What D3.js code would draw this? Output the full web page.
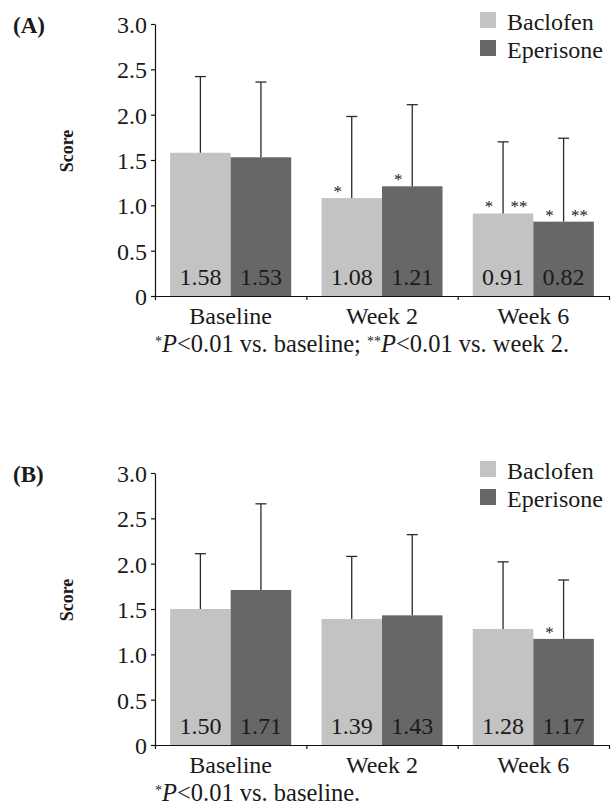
<!DOCTYPE html>
<html>
<head>
<meta charset="utf-8">
<script src="https://cdn.jsdelivr.net/npm/d3@7"></script>
<style>
  html, body { margin: 0; padding: 0; background: #fff; }
  svg { display: block; }
  text { font-family: "Liberation Serif", "Times New Roman", serif; fill: #1a1a1a; }
</style>
</head>
<body>
<svg id="chart" width="614" height="809"></svg>
<script>
// ---- Data ----
const categories = ["Baseline", "Week 2", "Week 6"];
const seriesNames = ["Baclofen", "Eperisone"];
const yTickValues = [0, 0.5, 1.0, 1.5, 2.0, 2.5, 3.0];
const yTickLabels = ["0", "0.5", "1.0", "1.5", "2.0", "2.5", "3.0"];
const valueLabelsA_Baclofen = ["1.58", "1.08", "0.91"];
const valueLabelsA_Eperisone = ["1.53", "1.21", "0.82"];
const valueLabelsB_Baclofen = ["1.50", "1.39", "1.28"];
const valueLabelsB_Eperisone = ["1.71", "1.43", "1.17"];

// Panel A
const aBaclofen = [1.58, 1.08, 0.91];
const aEperisone = [1.53, 1.21, 0.82];
const aBaclofenSD = [0.84, 0.90, 0.79];
const aEperisoneSD = [0.83, 0.90, 0.92];
const aBaclofenSigL = ["", "*", "*"];
const aBaclofenSigR = ["", "", "**"];
const aEperisoneSigL = ["", "*", "*"];
const aEperisoneSigR = ["", "", "**"];
const aFootnote = [["sup", "*"], ["i", "P"], ["n", "<0.01 vs. baseline; "], ["sup", "**"], ["i", "P"], ["n", "<0.01 vs. week 2."]];

// Panel B
const bBaclofen = [1.50, 1.39, 1.28];
const bEperisone = [1.71, 1.43, 1.17];
const bBaclofenSD = [0.61, 0.69, 0.74];
const bEperisoneSD = [0.95, 0.89, 0.65];
const bBaclofenSigL = ["", "", ""];
const bBaclofenSigR = ["", "", ""];
const bEperisoneSigL = ["", "", "*"];
const bEperisoneSigR = ["", "", ""];
const bFootnote = [["sup", "*"], ["i", "P"], ["n", "<0.01 vs. baseline."]];

const colors = { "Baclofen": "#c3c3c3", "Eperisone": "#676767" };

const svg = d3.select("#chart");

function drawPanel(offY, letter, bac, epe, bacSD, epeSD, bacL, bacR, epeL, epeR, labBac, labEpe, footnote) {
  const g = svg.append("g").attr("transform", `translate(0,${offY})`);
  const plotTop = 24, plotBottom = 296, plotLeft = 155, plotRight = 609;

  const y = d3.scaleLinear().domain([0, 3]).range([plotBottom, plotTop]);
  const x = d3.scaleBand().domain(categories).range([plotLeft, plotRight]).paddingInner(0.2).paddingOuter(0.1);
  const xs = d3.scaleBand().domain(seriesNames).range([0, x.bandwidth()]).padding(0);
  const xEdge = d3.scaleLinear().domain([0, categories.length]).range([plotLeft, plotRight]);

  const rows = [];
  categories.forEach((c, i) => {
    rows.push({ cat: c, s: "Baclofen", v: bac[i], sd: bacSD[i], L: bacL[i], R: bacR[i], lab: labBac[i] });
    rows.push({ cat: c, s: "Eperisone", v: epe[i], sd: epeSD[i], L: epeL[i], R: epeR[i], lab: labEpe[i] });
  });

  // Bars
  g.selectAll("rect.bar").data(rows).join("rect")
    .attr("class", "bar")
    .attr("x", d => x(d.cat) + xs(d.s))
    .attr("width", xs.bandwidth())
    .attr("y", d => y(d.v))
    .attr("height", d => y(0) - y(d.v))
    .attr("fill", d => colors[d.s]);

  // Error bars (upper)
  const cx = d => x(d.cat) + xs(d.s) + xs.bandwidth() / 2;
  g.selectAll("line.err").data(rows).join("line")
    .attr("x1", cx).attr("x2", cx)
    .attr("y1", d => y(d.v)).attr("y2", d => y(d.v + d.sd))
    .attr("stroke", "#2a2a2a").attr("stroke-width", 1.3);
  g.selectAll("line.cap").data(rows).join("line")
    .attr("x1", d => cx(d) - 5.5).attr("x2", d => cx(d) + 5.5)
    .attr("y1", d => y(d.v + d.sd)).attr("y2", d => y(d.v + d.sd))
    .attr("stroke", "#2a2a2a").attr("stroke-width", 1.3);

  // Value labels
  g.selectAll("text.val").data(rows).join("text")
    .attr("x", cx).attr("y", y(0) - 11.5)
    .attr("text-anchor", "middle")
    .style("font-size", "24px")
    .text(d => d.lab);

  // Significance marks
  g.selectAll("text.sigL").data(rows.filter(d => d.L)).join("text")
    .attr("x", d => cx(d) - 14).attr("y", d => y(d.v) - 1)
    .attr("text-anchor", "middle").style("font-size", "17px")
    .text(d => d.L);
  g.selectAll("text.sigR").data(rows.filter(d => d.R)).join("text")
    .attr("x", d => cx(d) + 16).attr("y", d => y(d.v) - 1)
    .attr("text-anchor", "middle").style("font-size", "17px")
    .text(d => d.R);

  // Y axis
  const yAxis = g.append("g").attr("transform", `translate(${plotLeft},0)`)
    .call(d3.axisLeft(y).tickValues(yTickValues).tickSize(4).tickSizeOuter(0).tickPadding(4)
      .tickFormat((d, i) => yTickLabels[i]));
  yAxis.select(".domain").attr("stroke", "#111").attr("stroke-width", 1.2);
  yAxis.selectAll(".tick line").attr("stroke", "#111").attr("stroke-width", 1.2);
  yAxis.selectAll(".tick text").attr("fill", "#1a1a1a").style("font-size", "24px")
    .style("font-family", '"Liberation Serif", "Times New Roman", serif').attr("dy", "0.36em");

  // X axis (ticks at group boundaries)
  const xAxis = g.append("g").attr("transform", `translate(0,${plotBottom})`)
    .call(d3.axisBottom(xEdge).tickValues(d3.range(categories.length + 1)).tickSize(4).tickSizeOuter(0).tickFormat(""));
  xAxis.select(".domain").attr("stroke", "#111").attr("stroke-width", 1.2);
  xAxis.selectAll(".tick line").attr("stroke", "#111").attr("stroke-width", 1.2);

  // Category labels
  g.selectAll("text.cat").data(categories).join("text")
    .attr("x", d => x(d) + x.bandwidth() / 2).attr("y", 324)
    .attr("text-anchor", "middle").style("font-size", "24px")
    .text(d => d);

  // Y axis title
  g.append("text")
    .attr("transform", `translate(73,${plotTop + 127}) rotate(-90)`)
    .attr("text-anchor", "middle").style("font-size", "18px").style("font-weight", "bold")
    .text("Score");

  // Panel letter
  g.append("text").attr("x", 13).attr("y", 33)
    .style("font-size", "23px").style("font-weight", "bold").text(letter);

  // Legend
  const lg = g.append("g");
  seriesNames.forEach((s, i) => {
    lg.append("rect").attr("x", 480).attr("y", 12 + i * 28).attr("width", 16).attr("height", 16).attr("fill", colors[s]);
    lg.append("text").attr("x", 507).attr("y", 30 + i * 27.5).style("font-size", "24px").text(s);
  });

  // Footnote
  const fn = g.append("text").attr("x", plotLeft).attr("y", 352).style("font-size", "24.5px");
  footnote.forEach(([kind, t]) => {
    const ts = fn.append("tspan").text(t);
    if (kind === "sup") ts.style("font-size", "14px").attr("baseline-shift", "6");
    else if (kind === "i") ts.style("font-style", "italic");
  });
}

drawPanel(0, "(A)", aBaclofen, aEperisone, aBaclofenSD, aEperisoneSD,
  aBaclofenSigL, aBaclofenSigR, aEperisoneSigL, aEperisoneSigR,
  valueLabelsA_Baclofen, valueLabelsA_Eperisone, aFootnote);
drawPanel(449, "(B)", bBaclofen, bEperisone, bBaclofenSD, bEperisoneSD,
  bBaclofenSigL, bBaclofenSigR, bEperisoneSigL, bEperisoneSigR,
  valueLabelsB_Baclofen, valueLabelsB_Eperisone, bFootnote);
</script>
</body>
</html>
